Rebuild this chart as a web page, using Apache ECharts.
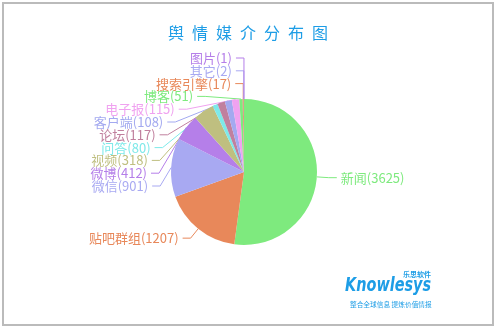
<!DOCTYPE html>
<html>
<head>
<meta charset="utf-8">
<script src="https://cdn.jsdelivr.net/npm/echarts@6/dist/echarts.min.js"></script>
<style>
html,body{margin:0;padding:0;background:#fff;}
#c{width:496px;height:329px;}
</style>
</head>
<body>
<div id="c"></div>
<script>
const categories = ['新闻','贴吧群组','微信','微博','视频','问答','论坛','客户端','电子报','博客','搜索引擎','其它','图片'];
const values = [3625,1207,901,412,318,80,117,108,115,51,17,2,1];
const colors = ['#7eea7e','#e8885a','#a8a9f2','#b57fe9','#bfbf80','#7ee9e9','#c0809e','#a3a9f0','#f0a2f0','#7eea7e','#e8885a','#a8a9f2','#b57fe9'];
// first-segment label line lengths used by the library's own layout pass
const lineLengths = [12,12,12,12,12,12,12,12,12,12,17,30,41];
const titleText = '舆情媒介分布图';

// layout constants
const CX = 244, CY = 172, R0 = 73;
const LEN1 = 12, LEN2 = 8, GAP = 4, STEP = 12.8, TOP_LIFT = 41;

const chart = echarts.init(document.getElementById('c'));
const data = categories.map((n,i)=>({
  name:n,value:values[i],
  itemStyle:{color:colors[i]},
  label:{color:colors[i]},
  labelLine:{length:lineLengths[i],lineStyle:{color:colors[i]}}
}));
const N = categories.length;
chart.setOption({
  animation:false,
  title:{text:titleText.split('').join('\u2002'),left:'center',top:20,textStyle:{color:'#1d9de6',fontSize:16,fontWeight:'normal',fontFamily:'Noto Sans CJK SC'}},
  graphic:[
    {type:'rect',shape:{x:3,y:3,width:490,height:322},style:{fill:'none',stroke:'#bbbbbb',lineWidth:2}},
    {type:'text',x:345,y:277,scaleX:0.76,style:{text:'Knowlesys',fill:'#1d9de6',font:'italic bold 19px "DejaVu Sans"'}},
    {type:'text',x:403,y:271,style:{text:'乐思软件',fill:'#1d9de6',font:'bold 7px "Noto Sans CJK SC"'}},
    {type:'text',x:350,y:301,style:{text:'整合全球信息 提炼价值情报',fill:'#1d9de6',font:'6.7px "Noto Sans CJK SC"'}}
  ],
  series:[{
    type:'pie',
    center:[CX,CY],
    radius:R0,
    startAngle:90,
    clockwise:true,
    avoidLabelOverlap:true,
    label:{formatter:'{b}({c})',fontSize:13,fontFamily:'Noto Sans CJK SC',distanceToLabelLine:GAP},
    labelLine:{length:LEN1,length2:LEN2,lineStyle:{width:1}},
    itemStyle:{borderWidth:0},
    labelLayout:function(p){
      const i = p.dataIndex;
      const pts = p.labelLinePoints;
      if (i < 2 || !pts) return {};
      // the small slices on the upper-left: stack their labels downward from above the pie
      const p0 = pts[0];
      const y = CY - R0 - TOP_LIFT + (N - 1 - i) * STEP;
      const Rl = R0 + LEN1;
      const dy = y - CY;
      const x1 = Math.abs(dy) < Rl ? CX - Math.sqrt(Rl*Rl - dy*dy) : p0[0];
      const x2 = x1 - LEN2;
      return {x: x2 - GAP, y: y, align:'right', verticalAlign:'middle', labelLinePoints: [p0, [x1, y], [x2, y]]};
    },
    data:data
  }]
});
</script>
</body>
</html>
